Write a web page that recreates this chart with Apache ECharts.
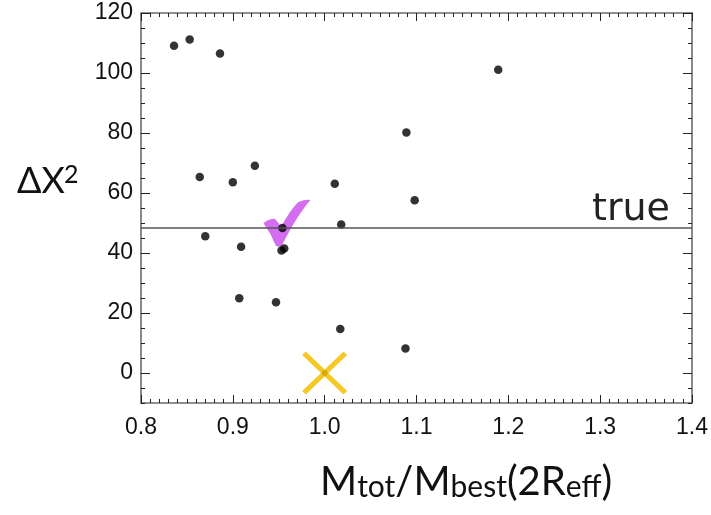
<!DOCTYPE html>
<html>
<head>
<meta charset="utf-8">
<script src="https://cdn.jsdelivr.net/npm/echarts@6/dist/echarts.min.js"></script>
<style>
  html, body { margin: 0; padding: 0; background: #fff; }
  #chart { width: 711px; height: 515px; }
</style>
</head>
<body>
<div id="chart"></div>
<script>
// Mass ratio vs. goodness of fit for each trial model
const massRatio = [0.836, 0.853, 0.886, 0.864, 0.900, 0.924, 1.011, 1.089, 1.189, 1.098,
                   0.870, 0.909, 0.954, 0.953, 0.956, 1.018, 0.907, 0.947, 1.017, 1.088];
const deltaChi2 = [109.1, 111.2, 106.5, 65.3, 63.6, 69.1, 63.1, 80.2, 101.1, 57.6,
                   45.6, 42.1, 48.3, 40.8, 41.5, 49.5, 24.9, 23.6, 14.7, 8.2];

// Best-fitting model (cross) and the true model (check mark / horizontal line)
const bestFit = [1.0, 0];
const trueModel = [0.959, 49.9];
const trueChi2 = 48.3;

const xTicks = [0.8, 0.9, 1.0, 1.1, 1.2, 1.3, 1.4];
const yTicks = [0, 20, 40, 60, 80, 100, 120];

const points = massRatio.map((m, i) => [m, deltaChi2[i]]);

const frameColor = '#6b6b6b';
const tickColor = '#222';
const labelFont = 'Liberation Sans';

const checkPath = 'path://M0,50 Q10,40 24,40 Q32,48 37,58 Q56,22 74,4 Q90,-2 100,0 Q72,32 40,96 Q34,104 26,98 Q16,72 0,50 Z';
const crossPath = 'path://M0,8 L8,0 L50,42 L92,0 L100,8 L58,50 L100,92 L92,100 L50,58 L8,100 L0,92 L42,50 Z';

function xAxisDef(pos, showLabels) {
  return {
    type: 'value', position: pos, min: 0.8, max: 1.4, interval: 0.1,
    axisLine: { show: true, onZero: false, lineStyle: { color: frameColor, width: 1.6 } },
    axisTick: { show: true, inside: true, length: 8, lineStyle: { color: tickColor, width: 1 } },
    minorTick: { show: true, splitNumber: 10, length: 4, lineStyle: { color: tickColor, width: 1 } },
    splitLine: { show: false },
    minorSplitLine: { show: false },
    axisLabel: {
      show: showLabels, margin: 13, color: '#111', fontSize: 23, fontFamily: labelFont,
      customValues: xTicks,
      formatter: v => v.toFixed(1)
    }
  };
}

function yMinorAxis(pos) {
  return {
    type: 'value', position: pos, min: -10, max: 120, interval: 5,
    axisLine: { show: true, onZero: false, lineStyle: { color: frameColor, width: 1.6 } },
    axisTick: { show: true, inside: true, length: 4, lineStyle: { color: tickColor, width: 1 } },
    splitLine: { show: false },
    axisLabel: { show: false }
  };
}

function yMajorAxis(pos, showLabels) {
  return {
    type: 'value', position: pos, min: -10, max: 120, interval: 5,
    axisLine: { show: false },
    axisTick: { show: true, inside: true, length: 9, customValues: yTicks, lineStyle: { color: tickColor, width: 1 } },
    splitLine: { show: false },
    axisLabel: {
      show: showLabels, margin: 8, color: '#111', fontSize: 23, fontFamily: labelFont,
      customValues: yTicks
    }
  };
}

const chart = echarts.init(document.getElementById('chart'), null, { renderer: 'canvas' });

chart.setOption({
  animation: false,
  backgroundColor: '#fff',
  grid: { left: 141, right: 18, top: 13, bottom: 112, containLabel: false },
  xAxis: [xAxisDef('bottom', true), xAxisDef('top', false)],
  yAxis: [yMinorAxis('left'), yMajorAxis('left', true), yMinorAxis('right'), yMajorAxis('right', false)],
  series: [
    {
      name: 'true model',
      type: 'scatter',
      z: 2,
      symbol: checkPath,
      symbolSize: [47, 47],
      itemStyle: { color: '#d062f0', opacity: 0.92 },
      data: [trueModel],
      markLine: {
        silent: true,
        symbol: 'none',
        label: { show: false },
        lineStyle: { color: '#555', width: 1.5, type: 'solid' },
        data: [{ yAxis: trueChi2 }]
      }
    },
    {
      name: 'models',
      type: 'scatter',
      z: 3,
      symbol: 'circle',
      symbolSize: 8.5,
      itemStyle: { color: '#000' },
      data: points
    },
    {
      name: 'best centre',
      type: 'scatter',
      z: 3,
      symbol: 'circle',
      symbolSize: 6,
      itemStyle: { color: '#000' },
      data: [bestFit]
    },
    {
      name: 'best fit',
      type: 'scatter',
      z: 4,
      symbol: crossPath,
      symbolSize: [45, 43],
      itemStyle: { color: '#f5be00', opacity: 0.85 },
      data: [bestFit]
    }
  ],
  graphic: [
    {
      type: 'text', left: 17, top: 163, z: 10,
      style: { text: 'ΔΧ', fontFamily: 'Lato', fontSize: 36, fill: '#111' }
    },
    {
      type: 'text', left: 64, top: 162, z: 10,
      style: { text: '2', fontFamily: 'Lato', fontSize: 25, fill: '#111' }
    },
    {
      type: 'text', right: 41, top: 191, z: 10,
      style: { text: 'true', fontFamily: 'DejaVu Sans', fontSize: 38, fill: '#222' }
    },
    {
      type: 'text', left: 320, top: 462, z: 10,
      style: {
        text: '{a|M}{b|tot}{a|/M}{b|best}{a|(2R}{b|eff}{a|)}',
        rich: {
          a: { fontFamily: 'Lato', fontSize: 40, fill: '#111', verticalAlign: 'bottom', lineHeight: 44 },
          b: { fontFamily: 'Lato', fontSize: 30, fill: '#111', verticalAlign: 'bottom', lineHeight: 44 }
        }
      }
    }
  ]
});
</script>
</body>
</html>
